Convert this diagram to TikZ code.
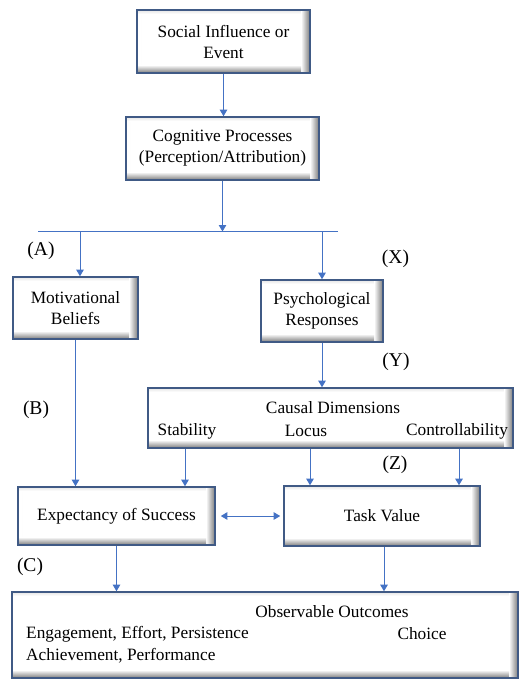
\documentclass[tikz,border=0pt]{standalone}
\usepackage{fontspec}
\setmainfont{Liberation Serif}
\usetikzlibrary{arrows.meta}
\definecolor{linkblue}{HTML}{4472C4}
\definecolor{boxedge}{HTML}{405A85}
\tikzset{
  box/.style={draw=boxedge, line width=1.6pt, fill=white, align=center,
    inner sep=0pt, font=\fontsize{17.3}{21}\selectfont,
    path picture={
      \shade[left color=white, right color=black!10]
        (path picture bounding box.north west) rectangle
        ([xshift=4pt]path picture bounding box.south west);
      \shade[top color=black!10, bottom color=white]
        (path picture bounding box.north west) rectangle
        ([yshift=-4pt]path picture bounding box.north east);
      \shade[left color=white, right color=black!52]
        ([xshift=-9pt]path picture bounding box.north east) rectangle
        (path picture bounding box.south east);
      \shade[top color=white, bottom color=black!52]
        ([yshift=8pt]path picture bounding box.south west) rectangle
        ([xshift=-9pt]path picture bounding box.south east);
    }},
  txt/.style={inner sep=0pt, font=\fontsize{17.3}{21}\selectfont},
  tag/.style={inner sep=0pt, font=\fontsize{19.5}{23}\selectfont},
  arr/.style={draw=linkblue, line width=0.9pt,
    -{Triangle[length=6.5pt,width=7.5pt]}},
  arr2/.style={draw=linkblue, line width=0.9pt,
    {Triangle[length=6.5pt,width=7.5pt]}-{Triangle[length=6.5pt,width=7.5pt]}},
  bar/.style={draw=linkblue, line width=1.8pt}
}
\begin{document}
\begin{tikzpicture}[x=1pt,y=-1pt]
\useasboundingbox (0,0) rectangle (521,680);

% boxes
\node[box, minimum width=173pt, minimum height=63pt] (soc) at (223.5,41.5) {Social Influence or\\Event};
\node[box, minimum width=193pt, minimum height=63pt] (cog) at (222.5,148.5) {Cognitive Processes\\(Perception/Attribution)};
\node[box, minimum width=125pt, minimum height=62pt] (mot) at (75.5,308) {Motivational\\Beliefs};
\node[box, minimum width=122pt, minimum height=62pt] (psy) at (322,311) {Psychological\\Responses};
\node[box, minimum width=365pt, minimum height=60pt] (cau) at (330.5,418) {};
\node[box, minimum width=197pt, minimum height=58pt] (exp) at (116.5,516) {Expectancy of Success};
\node[box, minimum width=196pt, minimum height=60pt] (tv) at (382,516) {Task Value};
\node[box, minimum width=506pt, minimum height=86pt] (obs) at (265,635) {};

% text inside the wide boxes
\node[txt] (caut) at (333,408) {Causal Dimensions};
\node[txt] (stab) at (187,431) {Stability};
\node[txt] (loc) at (306,431) {Locus};
\node[txt] (ctrl) at (457,431) {Controllability};
\node[txt] (obst) at (332,612) {Observable Outcomes};
\node[txt, anchor=west] (eng) at (26,634) {Engagement, Effort, Persistence};
\node[txt] (cho) at (422,634) {Choice};
\node[txt, anchor=west] (ach) at (26,656) {Achievement, Performance};

% path labels
\node[tag] (la) at (41,251) {(A)};
\node[tag] (lx) at (395.5,259) {(X)};
\node[tag] (ly) at (396,362) {(Y)};
\node[tag] (lb) at (36,410) {(B)};
\node[tag] (lz) at (395,465) {(Z)};
\node[tag] (lc) at (30,567) {(C)};

% branching bar
\coordinate (barL) at (38,231.5);
\coordinate (barR) at (338,231.5);
\coordinate (a1) at (80,231.5);
\coordinate (a2) at (322,231.5);
\draw[bar] (barL) -- (barR);

% connectors
\draw[arr] (soc.south) -- (soc.south |- cog.north);
\draw[arr] (cog.south) -- (cog.south |- barL);
\draw[arr] (a1) -- (a1 |- mot.north);
\draw[arr] (a2) -- (a2 |- psy.north);
\draw[arr] (psy.south) -- (psy.south |- cau.north);
\draw[arr] (mot.south) -- (mot.south |- exp.north);

\coordinate (s1) at (185,0);
\coordinate (s2) at (310,0);
\coordinate (s3) at (459,0);
\draw[arr] (s1 |- cau.south) -- (s1 |- exp.north);
\draw[arr] (s2 |- cau.south) -- (s2 |- tv.north);
\draw[arr] (s3 |- cau.south) -- (s3 |- tv.north);

\draw[arr2, shorten <=5pt, shorten >=3pt] (exp.east) -- (exp.east -| tv.west);

\draw[arr] (exp.south) -- (exp.south |- obs.north);
\coordinate (s4) at (384,0);
\draw[arr] (s4 |- tv.south) -- (s4 |- obs.north);
\end{tikzpicture}
\end{document}
